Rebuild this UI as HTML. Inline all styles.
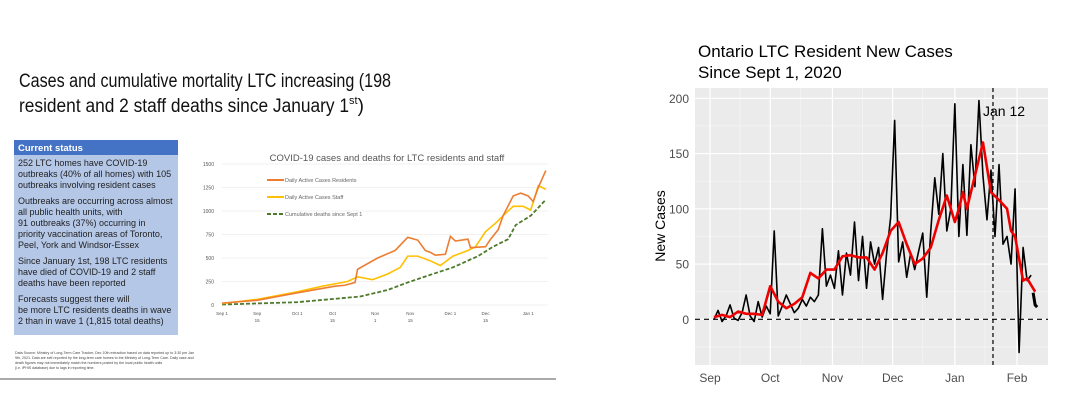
<!DOCTYPE html>
<html><head><meta charset="utf-8">
<style>
body{margin:0;background:#fff;width:1068px;height:417px;overflow:hidden;font-family:"Liberation Sans",sans-serif}
svg{position:absolute;left:0;top:0}
</style></head>
<body>
<svg id="s" width="1068" height="417">
<text x="19" y="87" font-size="19" fill="#111" textLength="372" lengthAdjust="spacingAndGlyphs">Cases and cumulative mortality LTC increasing (198</text>
<text x="19" y="112" font-size="19" fill="#111"><tspan textLength="330" lengthAdjust="spacingAndGlyphs">resident and 2 staff deaths since January 1</tspan><tspan font-size="11" dy="-8">st</tspan><tspan dy="8">)</tspan></text>
<rect x="14" y="140" width="164" height="15" fill="#4472c4"/>
<text x="18" y="151" font-size="9.5" font-weight="bold" fill="#fff">Current status</text>
<rect x="14" y="155" width="164" height="180" fill="#b4c7e7"/>
<g font-size="9" fill="#222">
<text x="18" y="166">252 LTC homes have COVID-19</text>
<text x="18" y="177">outbreaks (40% of all homes) with 105</text>
<text x="18" y="188">outbreaks involving resident cases</text>
<text x="18" y="204">Outbreaks are occurring across almost</text>
<text x="18" y="215">all public health units, with</text>
<text x="18" y="226">91 outbreaks (37%) occurring in</text>
<text x="18" y="237">priority vaccination areas of Toronto,</text>
<text x="18" y="248">Peel, York and Windsor-Essex</text>
<text x="18" y="264">Since January 1st, 198 LTC residents</text>
<text x="18" y="275">have died of COVID-19 and 2 staff</text>
<text x="18" y="286">deaths have been reported</text>
<text x="18" y="302">Forecasts suggest there will</text>
<text x="18" y="313">be more LTC residents deaths in wave</text>
<text x="18" y="324">2 than in wave 1 (1,815 total deaths)</text>
</g>
<g font-size="3.6" fill="#444">
<text x="15" y="354">Data Source: Ministry of Long-Term Care Tracker, Dec 10th extraction based on data reported up to 3:30 pm Jan</text>
<text x="15" y="359">9th, 2021. Data are self-reported by the long-term care homes to the Ministry of Long-Term Care. Daily case and</text>
<text x="15" y="364">death figures may not immediately match the numbers posted by the local public health units</text>
<text x="15" y="369">(i.e. iPHIS database) due to lags in reporting time.</text>
</g>
<line x1="0" y1="379" x2="556" y2="379" stroke="#777" stroke-width="1.2"/>
<text x="387" y="161" font-size="9.5" fill="#555" text-anchor="middle">COVID-19 cases and deaths for LTC residents and staff</text>
<g id="L"></g>
<text x="698" y="57" font-size="17" fill="#000">Ontario LTC Resident New Cases</text>
<text x="698" y="78" font-size="17" fill="#000">Since Sept 1, 2020</text>
<g id="R"></g>
</svg>
<script>
// Left chart data (day since Sep 1, value)
const resDays=[0,14,30,45,49,53,54,62,69,74,78,81,83,85,89,91,93,98,99,105,107,110,112,116,119,122,124,126,129];
const resVals=[20,50,130,200,210,240,380,500,580,720,690,580,560,530,540,730,680,700,610,620,700,800,950,1160,1190,1160,1100,1250,1430];
const stfDays=[0,14,30,40,50,54,60,66,71,74,78,83,87,92,98,101,105,109,112,116,120,123,126,129];
const stfVals=[15,60,140,200,250,300,270,330,400,520,520,470,420,520,580,620,780,870,950,1050,1050,1010,1270,1230];
const dthDays=[0,30,55,66,74,84,92,102,108,114,117,123,129];
const dthVals=[5,30,90,160,240,330,400,520,620,700,850,950,1120];
const lTicks=[0,250,500,750,1000,1250,1500];
const lxTicks=[[0,"Sep 1",""],[14,"Sep","15"],[30,"Oct 1",""],[44,"Oct","15"],[61,"Nov","1"],[75,"Nov","15"],[91,"Dec 1",""],[105,"Dec","15"],[122,"Jan 1",""]];
// Right chart data
const blkDays=[2,4,6,8,10,12,14,16,18,20,22,24,26,28,30,32,34,36,38,40,42,44,46,48,50,52,54,56,58,60,62,64,66,68,70,72,74,76,78,80,82,84,86,88,90,92,94,96,98,100,102,104,106,108,110,112,114,116,118,120,122,124,126,128,130,132,134,136,138,140,142,144,146,148,150,152,154,156,158,160];
const blkVals=[0,8,-2,3,13,1,-1,6,22,3,-2,16,2,12,5,80,3,12,22,14,6,10,18,12,20,16,22,82,30,40,28,62,22,60,40,88,35,75,28,70,50,65,18,60,92,180,52,70,38,60,45,62,78,20,80,128,95,150,80,100,195,75,140,76,158,120,198,130,90,135,75,140,68,75,50,118,-30,65,35,40];
const endDays=[161,162,163];
const endVals=[24,13,11];
const redDays=[2,6,10,14,18,22,26,30,34,38,42,46,50,54,58,62,66,70,74,78,82,86,90,94,98,102,106,110,114,118,122,124,126,128,132,136,140,144,148,150,152,156,158,162];
const redVals=[2,4,2,7,5,5,4,30,16,10,14,20,42,37,45,45,57,58,56,56,45,60,80,88,68,50,55,65,90,112,88,100,115,100,130,160,115,108,100,80,75,35,37,25];
const markerDay=141;
const rTicks=[0,50,100,150,200];
const rxTicks=[[0,"Sep"],[30,"Oct"],[61,"Nov"],[91,"Dec"],[122,"Jan"],[153,"Feb"]];
const NS="http://www.w3.org/2000/svg";
function mk(p,t,a){const e=document.createElementNS(NS,t);for(const k in a)e.setAttribute(k,a[k]);p.appendChild(e);return e;}
function pts(ds,vs,fx,fy){return ds.map((d,i)=>fx(d)+","+fy(vs[i])).join(" ");}
// Left
const L=document.getElementById("L");
const lx=d=>222+d*2.51, ly=v=>305-v*141/1500;
lTicks.forEach(v=>{const g=mk(L,"line",{x1:222,x2:548,y1:ly(v),y2:ly(v),stroke:"#e4e4e4","stroke-width":0.6});


const t=mk(L,"text",{x:214,y:ly(v)+2,"font-size":5,fill:"#555","text-anchor":"end"});t.textContent=v;

});
lxTicks.forEach(k=>{const t=mk(L,"text",{x:lx(k[0]),y:315,"font-size":4.5,fill:"#555","text-anchor":"middle"});t.textContent=k[1];


if(k[2]){const t2=mk(L,"text",{x:lx(k[0]),y:322,"font-size":4.5,fill:"#555","text-anchor":"middle"});t2.textContent=k[2];

}});
const sd=mk(L,"polyline",{points:pts(dthDays,dthVals,lx,ly),fill:"none",stroke:"#4e7a2c","stroke-width":1.8,"stroke-dasharray":"4,2"});


const ss=mk(L,"polyline",{points:pts(stfDays,stfVals,lx,ly),fill:"none",stroke:"#ffc000","stroke-width":1.6});


const sr=mk(L,"polyline",{points:pts(resDays,resVals,lx,ly),fill:"none",stroke:"#ed7d31","stroke-width":1.6});


[["#ed7d31","","Daily Active Cases Residents",180],["#ffc000","","Daily Active Cases Staff",197],["#4e7a2c","4,2","Cumulative deaths since Sept 1",214]].forEach(e=>{
const l=mk(L,"line",{x1:267,x2:284,y1:e[3],y2:e[3],stroke:e[0],"stroke-width":2,"stroke-dasharray":e[1]||"none"});


const t=mk(L,"text",{x:285,y:e[3]+2,"font-size":5.5,fill:"#666"});t.textContent=e[2];

});
// Right
const R=document.getElementById("R");
const rx=d=>710+d*2.007, ry=v=>319.3-v*1.105;
const bg=mk(R,"rect",{x:695,y:88,width:353,height:277,fill:"#ebebeb"});


[-25,25,75,125,175].forEach(v=>{const g=mk(R,"line",{x1:695,x2:1048,y1:ry(v),y2:ry(v),stroke:"#f7f7f7","stroke-width":0.6});

});
[15,45,76,106,137].forEach(d=>{const g=mk(R,"line",{x1:rx(d),x2:rx(d),y1:88,y2:365,stroke:"#f7f7f7","stroke-width":0.6});

});
rTicks.forEach(v=>{const g=mk(R,"line",{x1:695,x2:1048,y1:ry(v),y2:ry(v),stroke:"#fff","stroke-width":1.2});


const t=mk(R,"text",{x:689,y:ry(v)+4.5,"font-size":12,fill:"#4d4d4d","text-anchor":"end"});t.textContent=v;

});
rxTicks.forEach(k=>{const g=mk(R,"line",{x1:rx(k[0]),x2:rx(k[0]),y1:88,y2:365,stroke:"#fff","stroke-width":1.2});


const t=mk(R,"text",{x:rx(k[0]),y:382,"font-size":12,fill:"#4d4d4d","text-anchor":"middle"});t.textContent=k[1];

});
const z=mk(R,"line",{x1:695,x2:1048,y1:ry(0),y2:ry(0),stroke:"#000","stroke-width":1.2,"stroke-dasharray":"5,4"});


const j=mk(R,"line",{x1:rx(markerDay),x2:rx(markerDay),y1:88,y2:365,stroke:"#000","stroke-width":1.2,"stroke-dasharray":"4,3"});


const jt=mk(R,"text",{x:983,y:116,"font-size":14,fill:"#000"});jt.textContent="Jan 12";


const bl=mk(R,"polyline",{points:pts(blkDays,blkVals,rx,ry),fill:"none",stroke:"#000","stroke-width":1.6,"stroke-linejoin":"round"});


const el=mk(R,"polyline",{points:pts(endDays,endVals,rx,ry),fill:"none",stroke:"#000","stroke-width":3});


const rl=mk(R,"polyline",{points:pts(redDays,redVals,rx,ry),fill:"none",stroke:"#ee0000","stroke-width":2.6,"stroke-linejoin":"round"});


const yt=mk(R,"text",{x:665,y:226,"font-size":14,fill:"#000","text-anchor":"middle",transform:"rotate(-90 665 226)"});yt.textContent="New Cases";


</script>
</body></html>
